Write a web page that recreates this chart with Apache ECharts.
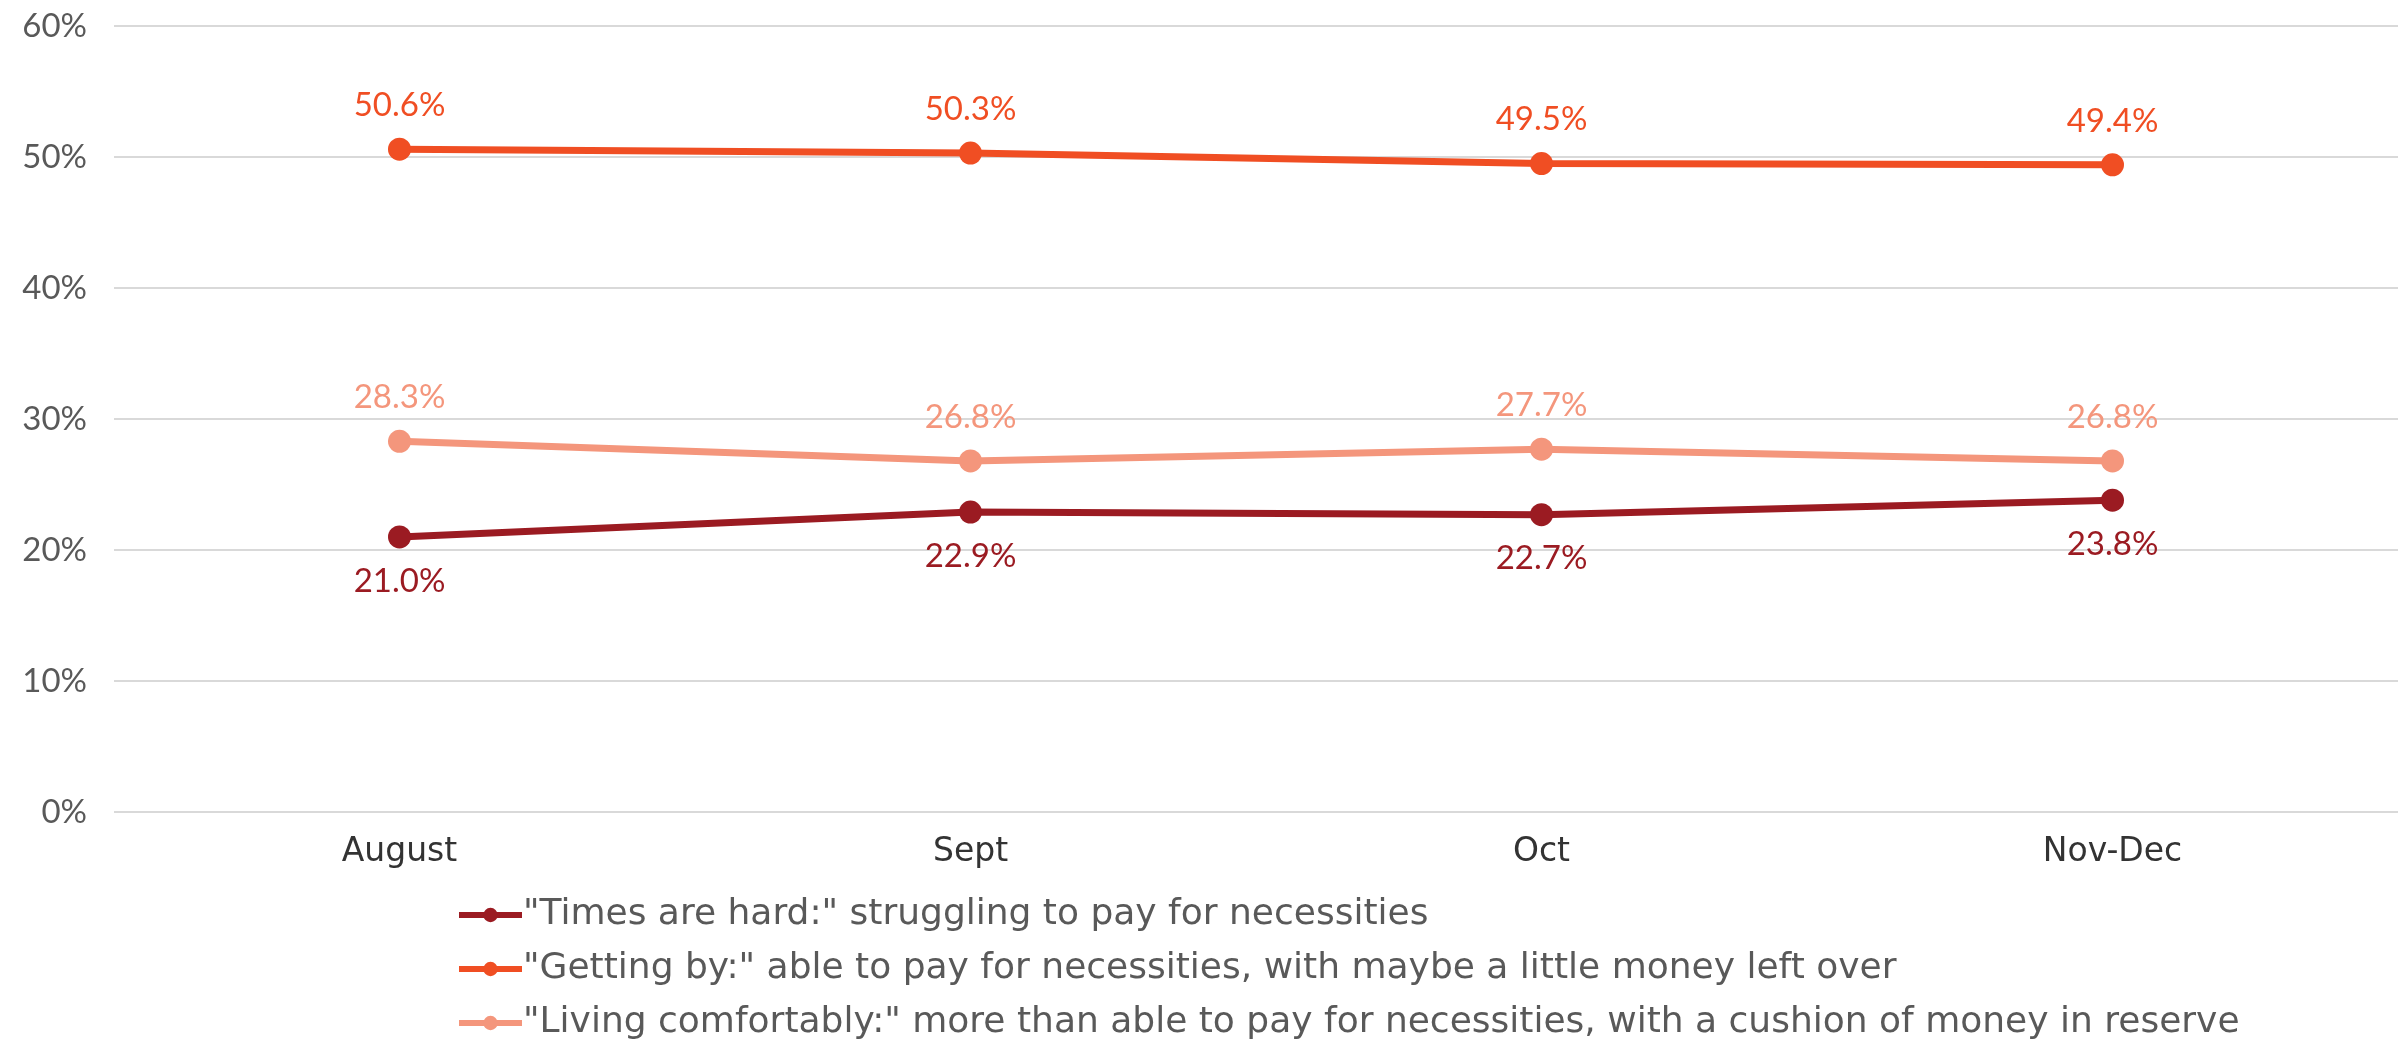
<!DOCTYPE html>
<html>
<head>
<meta charset="utf-8">
<script src="https://cdn.jsdelivr.net/npm/echarts@6/dist/echarts.min.js"></script>
<style>
  html, body { margin: 0; padding: 0; background: #fff; }
  #chart { width: 2400px; height: 1044px; }
</style>
</head>
<body>
<div id="chart"></div>
<script>
// data
let categories = ['August', 'Sept', 'Oct', 'Nov-Dec']
let seriesNames = [
    '"Times are hard:" struggling to pay for necessities',
    '"Getting by:" able to pay for necessities, with maybe a little money left over',
    '"Living comfortably:" more than able to pay for necessities, with a cushion of money in reserve'
]
let timesHard = [21.0, 22.9, 22.7, 23.8]
let gettingBy = [50.6, 50.3, 49.5, 49.4]
let livingComfortably = [28.3, 26.8, 27.7, 26.8]
let yTicks = [0, 10, 20, 30, 40, 50, 60]

let colors = ['#9B1B22', '#F04E23', '#F4967C']

let makeSeries = function(name, data, color, labelPos) {
    return {
        name: name,
        type: 'line',
        data: data,
        symbol: 'circle',
        symbolSize: 23,
        lineStyle: { width: 7, color: color },
        itemStyle: { color: color },
        label: {
            show: true,
            position: labelPos,
            distance: 16,
            color: color,
            fontFamily: 'Lato',
            fontSize: 33,
            formatter: p => p.value.toFixed(1) + '%'
        },
        emphasis: { disabled: true }
    }
}

let chart = echarts.init(document.getElementById('chart'))
chart.setOption({
    animation: false,
    color: colors,
    grid: { left: 114, right: 2, top: 26, bottom: 232, containLabel: false },
    legend: {
        orient: 'vertical',
        left: 456,
        top: 897,
        height: 147,
        padding: 0,
        itemWidth: 63,
        itemHeight: 18,
        itemGap: 18,
        lineStyle: { width: 6 },
        textStyle: { color: '#595959', fontFamily: 'DejaVu Sans', fontSize: 36, lineHeight: 36, padding: [0, 0, 0, -4] },
        data: seriesNames
    },
    xAxis: {
        type: 'category',
        data: categories,
        boundaryGap: true,
        axisLine: { show: false },
        axisTick: { show: false },
        axisLabel: { color: '#333333', fontFamily: 'DejaVu Sans', fontSize: 33, margin: 24 }
    },
    yAxis: {
        type: 'value',
        min: yTicks[0],
        max: yTicks[yTicks.length - 1],
        interval: 10,
        axisLine: { show: false },
        axisTick: { show: false },
        axisLabel: { color: '#595959', fontFamily: 'Lato', fontSize: 33, margin: 27, formatter: '{value}%' },
        splitLine: { lineStyle: { color: '#D9D9D9', width: 2 } }
    },
    series: [
        makeSeries(seriesNames[0], timesHard, colors[0], 'bottom'),
        makeSeries(seriesNames[1], gettingBy, colors[1], 'top'),
        makeSeries(seriesNames[2], livingComfortably, colors[2], 'top')
    ]
})
</script>
</body>
</html>
